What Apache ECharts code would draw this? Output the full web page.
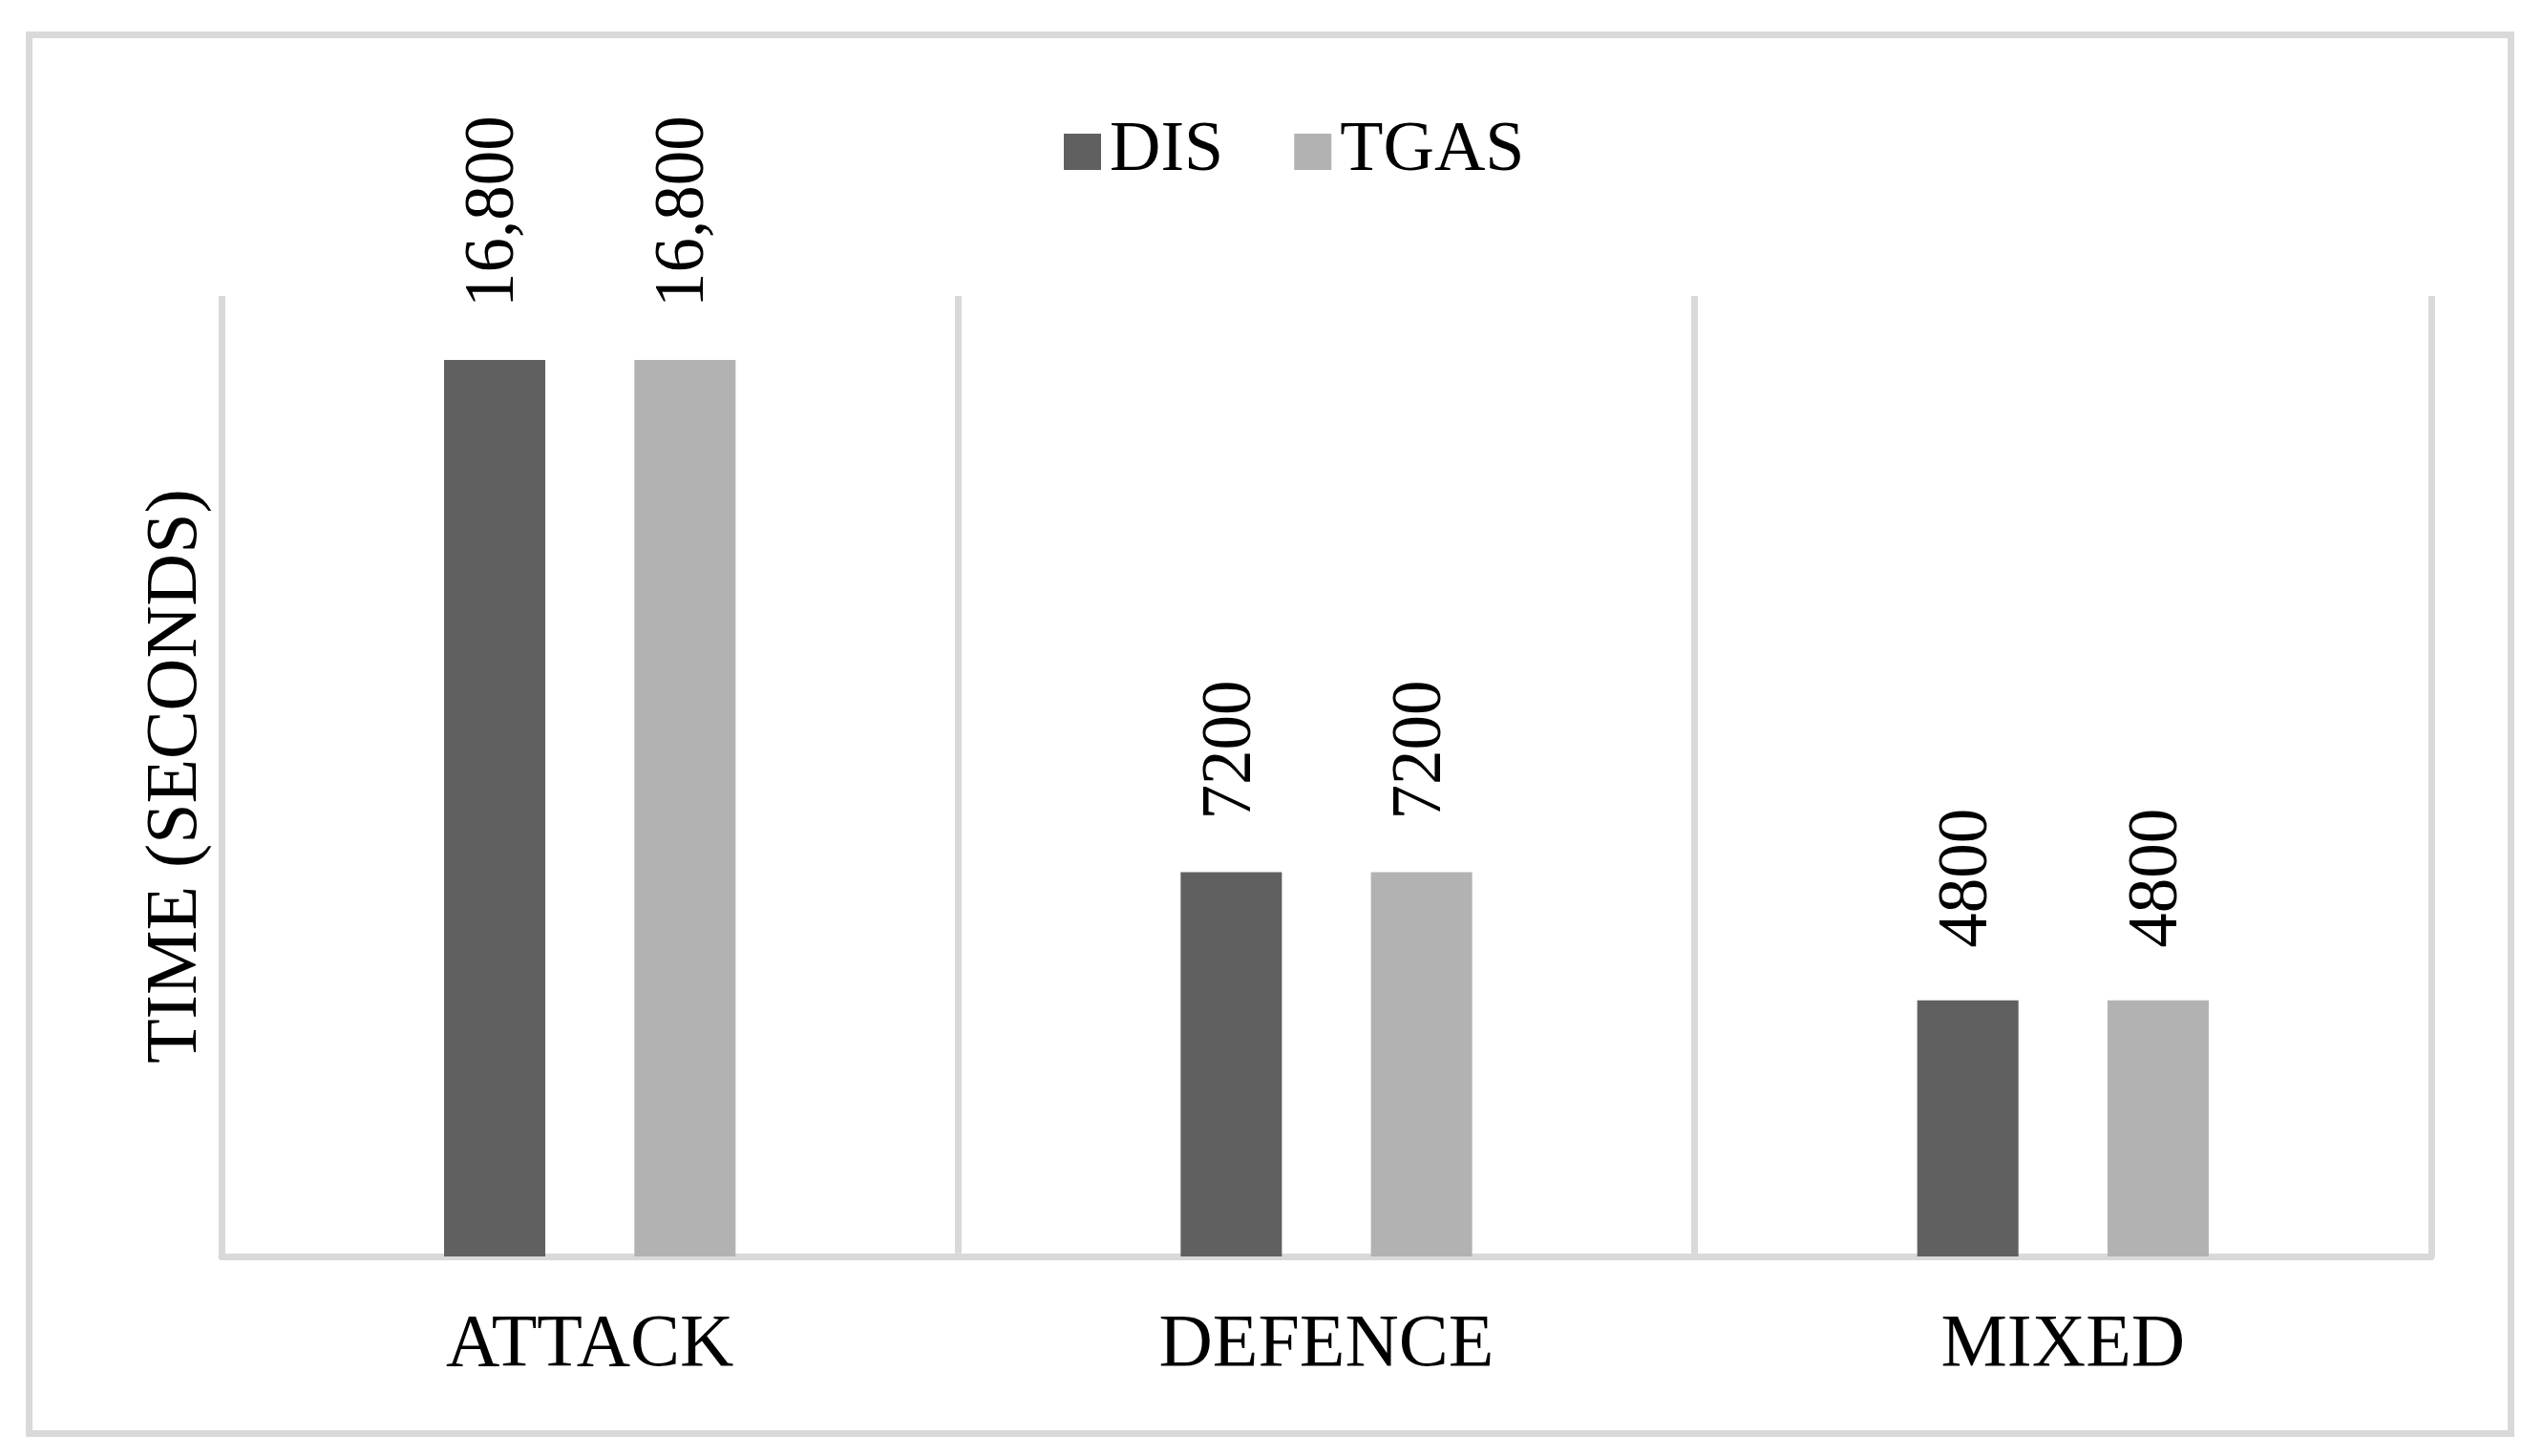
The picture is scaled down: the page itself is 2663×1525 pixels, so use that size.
<!DOCTYPE html>
<html>
<head>
<meta charset="utf-8">
<script src="https://cdn.jsdelivr.net/npm/echarts@6/dist/echarts.min.js"></script>
<style>
html,body{margin:0;padding:0;background:#fff;}
#chart{width:2663px;height:1525px;}
</style>
</head>
<body>
<div id="chart"></div>
<script>
const categories = ['ATTACK', 'DEFENCE', 'MIXED'];
const seriesNames = ['DIS', 'TGAS'];
const disValues = [16800, 7200, 4800];
const tgasValues = [16800, 7200, 4800];
const labelTexts = {
  DIS: ['16,800', '7200', '4800'],
  TGAS: ['16,800', '7200', '4800']
};
const yAxisName = 'TIME (SECONDS)';

const FONT = '"Liberation Serif", "Times New Roman", serif';
const chart = echarts.init(document.getElementById('chart'), null, {renderer: 'canvas'});

function labelCfg(name) {
  return {
    show: true,
    position: 'top',
    distance: 55,
    rotate: 90,
    align: 'left',
    verticalAlign: 'middle',
    fontFamily: FONT,
    fontSize: 73,
    color: '#000',
    formatter: p => labelTexts[name][p.dataIndex]
  };
}

chart.setOption({
  animation: false,
  backgroundColor: '#fff',
  graphic: [{
    type: 'rect',
    shape: {x: 30.5, y: 36.5, width: 2599, height: 1465},
    style: {fill: 'none', stroke: '#d9d9d9', lineWidth: 7},
    silent: true,
    z: -1
  }],
  legend: {
    data: seriesNames,
    left: 1109,
    top: 117,
    itemWidth: 39,
    itemHeight: 38,
    itemGap: 74,
    icon: 'rect',
    textStyle: {fontFamily: FONT, fontSize: 74, color: '#000', padding: [0, 0, 0, 4]}
  },
  grid: {left: 232, right: 117, top: 310, bottom: 209, containLabel: false},
  xAxis: {
    type: 'category',
    data: categories,
    axisLine: {show: true, lineStyle: {color: '#d9d9d9', width: 7}},
    axisTick: {show: false},
    splitLine: {show: true, lineStyle: {color: '#d9d9d9', width: 7}},
    axisLabel: {fontFamily: FONT, fontSize: 78, color: '#000', margin: 55}
  },
  yAxis: {
    type: 'value',
    min: 0,
    max: 18000,
    name: yAxisName,
    nameLocation: 'middle',
    nameGap: 9,
    nameTextStyle: {fontFamily: FONT, fontSize: 76, color: '#000'},
    axisLine: {show: false},
    axisTick: {show: false},
    axisLabel: {show: false},
    splitLine: {show: false}
  },
  series: [
    {
      name: 'DIS',
      type: 'bar',
      data: disValues,
      barWidth: 106,
      barGap: '88%',
      itemStyle: {color: '#606060'},
      label: labelCfg('DIS')
    },
    {
      name: 'TGAS',
      type: 'bar',
      data: tgasValues,
      barWidth: 106,
      barGap: '88%',
      itemStyle: {color: '#b2b2b2'},
      label: labelCfg('TGAS')
    }
  ]
});
</script>
</body>
</html>
